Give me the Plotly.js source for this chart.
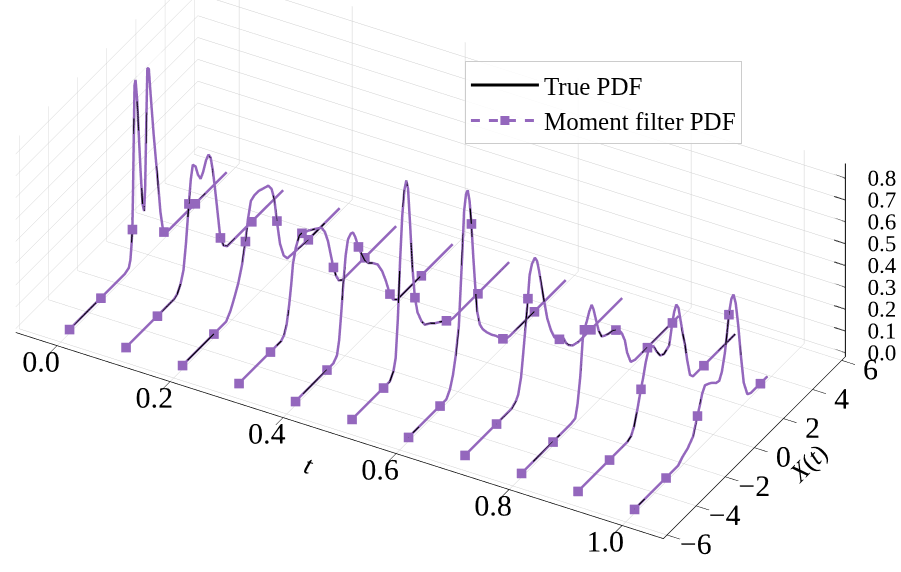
<!DOCTYPE html>
<html>
<head>
<meta charset="utf-8">
<script src="https://cdn.plot.ly/plotly-3.0.1.min.js"></script>
<style>html,body{margin:0;padding:0;background:#fff;}#plot{width:901px;height:572px;}#err{position:absolute;left:0;bottom:0;font:12px monospace;color:red;}</style>
</head>
<body>
<div id="plot"></div>
<div id="err"></div>
<script>
window.onerror = function(m){ document.getElementById('err').innerHTML += 'onerror: ' + m + '<br>'; };
// time instants of the PDF slices
const T = [0.0, 0.1, 0.2, 0.3, 0.4, 0.5, 0.6, 0.7, 0.8, 0.9, 1.0];
// state positions where the markers are drawn
const MARK_X = [-5.4, -3.24, -1.08, 1.08, 3.24];
// tick labels
const T_TICKS = [0.0, 0.2, 0.4, 0.6, 0.8, 1.0];
const X_TICKS = [-6, -4, -2, 0, 2, 4, 6];
const Z_TICKS = [0.0, 0.1, 0.2, 0.3, 0.4, 0.5, 0.6, 0.7, 0.8];
const T_RANGE = [-0.073, 1.073];
const X_RANGE = [-6.25, 6.25];
const Z_RANGE = [-0.018, 0.868];

// PDF slices (X values, density values)
const X0 = [-5.4,-3.24,-1.6,-1.32,-1.21,-1.14,-1.08,-1.03,-0.98,-0.93,-0.86,-0.75,-0.62,-0.5,-0.38,-0.27,-0.2,-0.12,-0.05,0.05,0.2,0.38,0.55,0.7,0.85,1.0,1.08,1.3,3.24,5.4];
const Z0 = [0,0,0,0.01,0.04,0.1,0.17,0.35,0.6,0.82,0.84,0.74,0.55,0.38,0.24,0.2,0.3,0.6,0.84,0.83,0.68,0.51,0.37,0.25,0.12,0.04,0.015,0,0,0];
const X1 = [-5.4,-3.24,-2.1,-1.87,-1.65,-1.45,-1.28,-1.08,-0.95,-0.81,-0.62,-0.45,-0.27,-0.1,0.1,0.27,0.42,0.57,0.7,0.82,0.92,1.08,1.3,1.55,3.24,5.4];
const Z1 = [0,0,0,0.01,0.04,0.09,0.2,0.37,0.47,0.53,0.51,0.46,0.43,0.45,0.49,0.505,0.48,0.41,0.33,0.25,0.18,0.07,0.02,0,0,0];
const X2 = [-5.4,-3.24,-2.4,-2.1,-1.85,-1.57,-1.3,-1.08,-0.9,-0.7,-0.45,-0.16,0.15,0.49,0.72,0.91,1.08,1.3,1.55,1.8,3.24,5.4];
const Z2 = [0,0,0,0.03,0.07,0.12,0.19,0.28,0.37,0.44,0.45,0.45,0.44,0.43,0.4,0.34,0.23,0.11,0.04,0.01,0,0];
const X3 = [-5.4,-3.24,-2.5,-2.3,-2.13,-1.95,-1.8,-1.69,-1.5,-1.26,-1.08,-0.6,-0.2,0.27,0.5,0.71,0.9,1.08,1.26,1.45,1.7,3.24,5.4];
const Z3 = [0,0,0,0.015,0.05,0.13,0.22,0.3,0.36,0.4,0.4,0.38,0.36,0.335,0.3,0.245,0.17,0.1,0.05,0.015,0,0,0];
const X4 = [-5.4,-3.24,-2.8,-2.55,-2.4,-2.25,-2.1,-1.95,-1.8,-1.6,-1.45,-1.3,-1.08,-0.9,-0.65,-0.4,-0.1,0.25,0.55,0.8,1.08,1.3,1.6,3.24,5.4];
const Z4 = [0,0,0,0.02,0.08,0.2,0.33,0.44,0.5,0.515,0.51,0.48,0.42,0.38,0.33,0.3,0.28,0.25,0.2,0.14,0.06,0.02,0,0,0];
const X5 = [-5.4,-3.24,-2.8,-2.55,-2.4,-2.25,-2.1,-1.95,-1.8,-1.67,-1.55,-1.42,-1.25,-1.08,-0.9,-0.62,-0.4,0,0.3,0.6,0.9,1.08,1.3,1.6,3.24,5.4];
const Z5 = [0,0,0,0.03,0.08,0.25,0.5,0.7,0.81,0.845,0.8,0.64,0.42,0.27,0.19,0.13,0.1,0.08,0.06,0.045,0.03,0.02,0.005,0,0,0];
const X6 = [-5.4,-3.24,-2.8,-2.55,-2.35,-2.15,-1.94,-1.72,-1.58,-1.45,-1.33,-1.2,-1.08,-0.95,-0.81,-0.68,-0.5,-0.3,0,0.3,0.6,0.9,1.08,1.3,1.6,3.24,5.4];
const Z6 = [0,0,0,0.03,0.08,0.16,0.28,0.575,0.78,0.85,0.86,0.8,0.69,0.53,0.38,0.26,0.19,0.155,0.12,0.09,0.065,0.035,0.02,0.005,0,0,0];
const X7 = [-5.4,-3.24,-2.2,-1.9,-1.74,-1.55,-1.4,-1.23,-1.08,-0.96,-0.8,-0.6,-0.45,-0.3,-0.15,0,0.25,0.5,0.75,1.08,1.37,1.55,1.72,2.0,2.4,3.24,5.4];
const Z7 = [0,0,0,0.015,0.035,0.1,0.2,0.32,0.43,0.53,0.57,0.585,0.56,0.5,0.43,0.36,0.25,0.18,0.13,0.1,0.085,0.05,0.03,0.01,0,0,0];
const X8 = [-5.4,-3.24,-2.0,-1.71,-1.55,-1.36,-1.2,-1.08,-0.9,-0.75,-0.58,-0.45,-0.31,-0.1,0.1,0.3,0.6,0.9,1.08,1.3,1.5,1.7,1.85,2.1,2.4,3.24,5.4];
const Z8 = [0,0,0,0.005,0.06,0.175,0.33,0.37,0.4,0.43,0.45,0.42,0.37,0.3,0.26,0.25,0.24,0.235,0.225,0.21,0.18,0.135,0.07,0.01,0,0,0];
const X9 = [-5.4,-3.24,-2.0,-1.75,-1.55,-1.3,-1.08,-0.93,-0.75,-0.58,-0.4,-0.22,0,0.25,0.5,0.86,1.08,1.2,1.35,1.5,1.65,1.8,1.95,2.1,2.29,2.5,3.24,5.4];
const Z9 = [0,0,0,0.01,0.04,0.11,0.18,0.22,0.28,0.32,0.325,0.32,0.28,0.245,0.235,0.25,0.34,0.38,0.405,0.38,0.31,0.24,0.18,0.1,0.02,0,0,0];
const X10 = [-5.4,-3.24,-2.4,-2.1,-1.75,-1.38,-1.08,-0.9,-0.75,-0.56,-0.3,-0.09,0.2,0.42,0.6,0.8,0.95,1.08,1.25,1.4,1.55,1.72,1.9,2.1,2.35,2.6,3.24,3.73];
const Z10 = [0,0,0,0.02,0.035,0.065,0.14,0.18,0.22,0.245,0.235,0.225,0.205,0.2,0.23,0.3,0.38,0.46,0.52,0.53,0.48,0.37,0.22,0.08,0.01,0,0,0];

const XS = [X0,X1,X2,X3,X4,X5,X6,X7,X8,X9,X10];
const ZS = [Z0,Z1,Z2,Z3,Z4,Z5,Z6,Z7,Z8,Z9,Z10];

const lt = [], lx = [], lz = [];
const mt = [], mx = [], mz = [];
XS.forEach((xa, k) => {
  xa.forEach((xv, i) => {
    lt.push(T[k]); lx.push(xv); lz.push(ZS[k][i]);
    if (MARK_X.includes(xv)) { mt.push(T[k]); mx.push(xv); mz.push(ZS[k][i]); }
  });
  lt.push(null); lx.push(null); lz.push(null);
});

const PURPLE = '#9467bd';
const FONT = 'Liberation Serif';

// right-hand vertical axis for the density (drawn at the t max, X max edge)
const zax_t = [T_RANGE[1], T_RANGE[1]], zax_x = [X_RANGE[1], X_RANGE[1]], zax_z = [Z_RANGE[0], Z_RANGE[1]];
const ztk_t = [], ztk_x = [], ztk_z = [];
Z_TICKS.forEach(z => { ztk_t.push(T_RANGE[1] - 0.02, T_RANGE[1], null); ztk_x.push(X_RANGE[1], X_RANGE[1], null); ztk_z.push(z, z, null); });

// legend-only entries, placed beyond the t range so nothing of them shows in the scene
const LEG_T = [5, 5], LEG_X = [0, 1], LEG_Z = [0, 0];

const traces = [
  {type:'scatter3d', mode:'lines', x:lt, y:lx, z:lz, showlegend:false,
   line:{color:PURPLE, width:5}, connectgaps:false, hoverinfo:'skip'},
  {type:'scatter3d', mode:'markers', x:mt, y:mx, z:mz, showlegend:false,
   marker:{symbol:'square', size:5, color:PURPLE}, hoverinfo:'skip'},
  {type:'scatter3d', mode:'lines', x:lt, y:lx, z:lz, showlegend:false,
   line:{color:'#000000', width:2.5, dash:'dash'}, connectgaps:false, hoverinfo:'skip'},
  {type:'scatter3d', mode:'lines', x:LEG_T, y:LEG_X, z:LEG_Z, name:'True PDF',
   line:{color:'#000000', width:3}, hoverinfo:'skip'},
  {type:'scatter3d', mode:'lines+markers', x:LEG_T, y:LEG_X, z:LEG_Z, name:'Moment filter PDF',
   line:{color:PURPLE, width:3, dash:'dash'}, marker:{symbol:'square', size:9, color:PURPLE}, hoverinfo:'skip'},
  {type:'scatter3d', mode:'lines', x:zax_t, y:zax_x, z:zax_z, showlegend:false,
   line:{color:'#000000', width:2}, hoverinfo:'skip'},
  {type:'scatter3d', mode:'lines', x:ztk_t, y:ztk_x, z:ztk_z, showlegend:false, connectgaps:false,
   line:{color:'#000000', width:2}, hoverinfo:'skip'},
  {type:'scatter3d', mode:'text', x:Z_TICKS.map(() => T_RANGE[1]), y:Z_TICKS.map(() => X_RANGE[1]), z:Z_TICKS,
   text:Z_TICKS.map(z => z.toFixed(1)), textposition:'middle right', showlegend:false,
   textfont:{family:FONT, size:23, color:'#000000'}, hoverinfo:'skip'}
];

function ax(extra) {
  return Object.assign({
    showbackground:false, gridcolor:'#cfcfcf', gridwidth:1,
    showline:true, linecolor:'#000000', linewidth:1.5,
    ticks:'outside', tickcolor:'#000000', ticklen:15, tickwidth:1.2,
    zeroline:false, showspikes:false, tickangle:0,
    tickfont:{family:FONT, size:19, color:'#000000'}
  }, extra);
}

const dir = [0.406, -0.7193, 0.564];
const dist = 1.87;
const ctr = [0.0954, -0.0275, -0.1129];

const layout = {
  width:901, height:572,
  margin:{l:0, r:0, t:0, b:0},
  paper_bgcolor:'#ffffff',
  showlegend:true,
  legend:{x:0.516, y:0.893, xanchor:'left', yanchor:'top', itemwidth:68,
          bgcolor:'rgba(255,255,255,0.85)', bordercolor:'#cccccc', borderwidth:1,
          font:{family:FONT, size:25, color:'#000000'}},
  scene:{
    domain:{x:[0,1], y:[0,1]},
    aspectmode:'manual',
    aspectratio:{x:2.60, y:1.295, z:0.819},
    camera:{
      projection:{type:'orthographic'},
      eye:{x:ctr[0] + dist*dir[0], y:ctr[1] + dist*dir[1], z:ctr[2] + dist*dir[2]},
      center:{x:ctr[0], y:ctr[1], z:ctr[2]},
      up:{x:0, y:0, z:1}
    },
    xaxis:ax({range:T_RANGE, tickvals:T_TICKS, tickformat:'.1f',
      title:{text:'<i>t</i>', font:{family:FONT, size:26, color:'#000'}}}),
    yaxis:ax({range:X_RANGE, tickvals:X_TICKS,
      title:{text:'<i>X</i>(<i>t</i>)', font:{family:FONT, size:26, color:'#000'}}}),
    zaxis:ax({range:Z_RANGE, tickvals:Z_TICKS, showticklabels:false, ticks:'', showline:false,
      title:{text:' ', font:{family:FONT, size:24, color:'#000'}}})
  }
};

try {
  Plotly.newPlot('plot', traces, layout, {displayModeBar:false})
    .catch(e => { document.getElementById('err').innerHTML += 'promise: ' + e + '<br>'; });
} catch (e) {
  document.getElementById('err').innerHTML += 'err: ' + e + '<br>';
}
</script>
</body>
</html>
